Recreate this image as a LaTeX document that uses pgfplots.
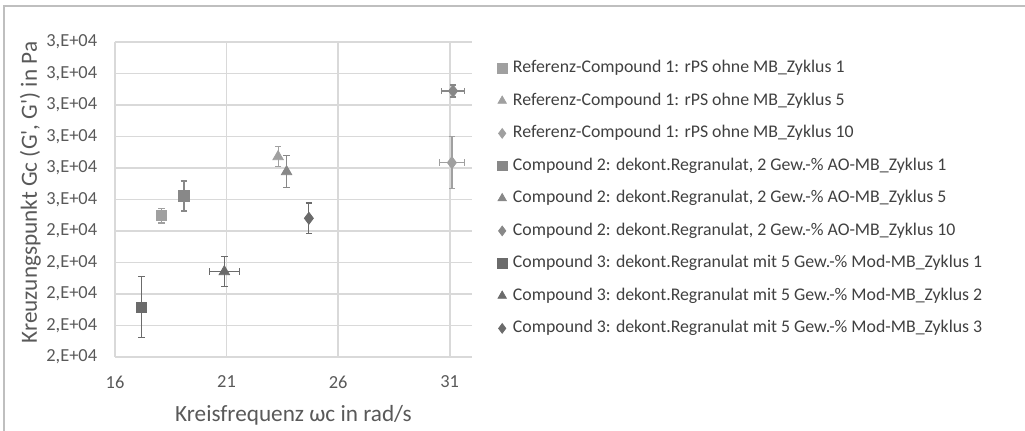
\documentclass[border=0pt]{standalone}
\usepackage{fontspec}
\setmainfont{Carlito}
\usepackage{pgfplots}
\pgfplotsset{compat=1.18}

\definecolor{lgray}{HTML}{A0A0A0}
\definecolor{mgray}{HTML}{888888}
\definecolor{dgray}{HTML}{6B6B6B}
\definecolor{gridc}{HTML}{D9D9D9}
\definecolor{txt}{HTML}{595959}
\definecolor{frame}{HTML}{BFBFBF}

\pgfplotsset{
  ebar/.style={
    only marks,
    error bars/x dir=both, error bars/x explicit,
    error bars/y dir=both, error bars/y explicit,
    error bars/error bar style={line width=0.6pt},
    error bars/error mark options={rotate=90, mark size=1.6pt, line width=0.6pt},
  },
}

\begin{document}
\begin{tikzpicture}
\useasboundingbox (0,0) rectangle (512.5pt,215.5pt);
\draw[frame, line width=0.6pt] (2pt,-5pt) -- (2pt,212.5pt) -- (520pt,212.5pt);

\begin{axis}[
    at={(57.5pt,37pt)}, anchor=south west,
    scale only axis,
    width=178.5pt, height=157.5pt,
    xmin=16, xmax=32,
    ymin=20000, ymax=30000,
    xtick={16,21,26,31},
    ytick={20000,21000,22000,23000,24000,25000,26000,27000,28000,29000,30000},
    yticklabels={{2,E+04},{2,E+04},{2,E+04},{2,E+04},{2,E+04},{3,E+04},{3,E+04},{3,E+04},{3,E+04},{3,E+04},{3,E+04}},
    scaled ticks=false,
    /pgf/number format/assume math mode=true,
    grid=major,
    major grid style={gridc, line width=0.9pt},
    major tick length=0pt,
    axis line style={draw=none},
    tick label style={font=\fontsize{9.2}{10}\selectfont, text=txt},
    xticklabel style={yshift=-5.8pt},
    yticklabel style={xshift=-5.4pt},
    xlabel={Kreisfrequenz ωc in rad/s},
    ylabel={Kreuzungspunkt Gc (G\textquotesingle, G\textquotesingle) in Pa},
    label style={font=\fontsize{11.6}{13}\selectfont, text=txt},
    xlabel style={at={(axis description cs:0.5,-0.184)}, anchor=center},
    ylabel style={at={(axis description cs:-0.237,0.522)}, anchor=center},
    legend cell align=left,
    legend image code/.code={\draw[#1] plot coordinates {(0.12cm,0cm)};},
    legend image post style={mark size=2.4pt},
    legend style={
      at={(axis description cs:1,1)}, anchor=north west,
      xshift=12.5pt, yshift=-7.75pt,
      draw=none, fill=none, inner sep=0pt,
      row sep=5.75pt, column sep=2pt,
      font=\fontsize{8.9}{10}\selectfont, text=black!75,
      nodes={text height=6.5pt, text depth=2pt, inner sep=1pt},
    },
]

% Referenz-Compound 1
\addplot[ebar, lgray, mark=square*, mark size=2.6pt]
  coordinates {(18.09,24486) +- (0,230)};
\addlegendentry{Referenz-Compound 1: rPS ohne MB\_Zyklus 1}
\addplot[ebar, lgray, mark=triangle*, mark size=3pt]
  coordinates {(23.31,26359) +- (0,317)};
\addlegendentry{Referenz-Compound 1: rPS ohne MB\_Zyklus 5}
\addplot[ebar, lgray, mark=diamond*, mark size=3pt]
  coordinates {(31.10,26168) +- (0.56,830)};
\addlegendentry{Referenz-Compound 1: rPS ohne MB\_Zyklus 10}

% Compound 2
\addplot[ebar, mgray, mark=square*, mark size=2.6pt]
  coordinates {(19.09,25111) +- (0,475)};
\addlegendentry{Compound 2: dekont.Regranulat, 2 Gew.-\% AO-MB\_Zyklus 1}
\addplot[ebar, mgray, mark=triangle*, mark size=3pt]
  coordinates {(23.69,25883) +- (0,510)};
\addlegendentry{Compound 2: dekont.Regranulat, 2 Gew.-\% AO-MB\_Zyklus 5}
\addplot[ebar, mgray, mark=diamond*, mark size=3pt]
  coordinates {(31.15,28444) +- (0.5,190)};
\addlegendentry{Compound 2: dekont.Regranulat, 2 Gew.-\% AO-MB\_Zyklus 10}

% Compound 3
\addplot[ebar, dgray, mark=square*, mark size=2.6pt]
  coordinates {(17.19,21578) +- (0,965)};
\addlegendentry{Compound 3: dekont.Regranulat mit 5 Gew.-\% Mod-MB\_Zyklus 1}
\addplot[ebar, dgray, mark=triangle*, mark size=3pt]
  coordinates {(20.90,22709) +- (0.68,480)};
\addlegendentry{Compound 3: dekont.Regranulat mit 5 Gew.-\% Mod-MB\_Zyklus 2}
\addplot[ebar, dgray, mark=diamond*, mark size=3pt]
  coordinates {(24.69,24403) +- (0,486)};
\addlegendentry{Compound 3: dekont.Regranulat mit 5 Gew.-\% Mod-MB\_Zyklus 3}

\end{axis}
\end{tikzpicture}
\end{document}
